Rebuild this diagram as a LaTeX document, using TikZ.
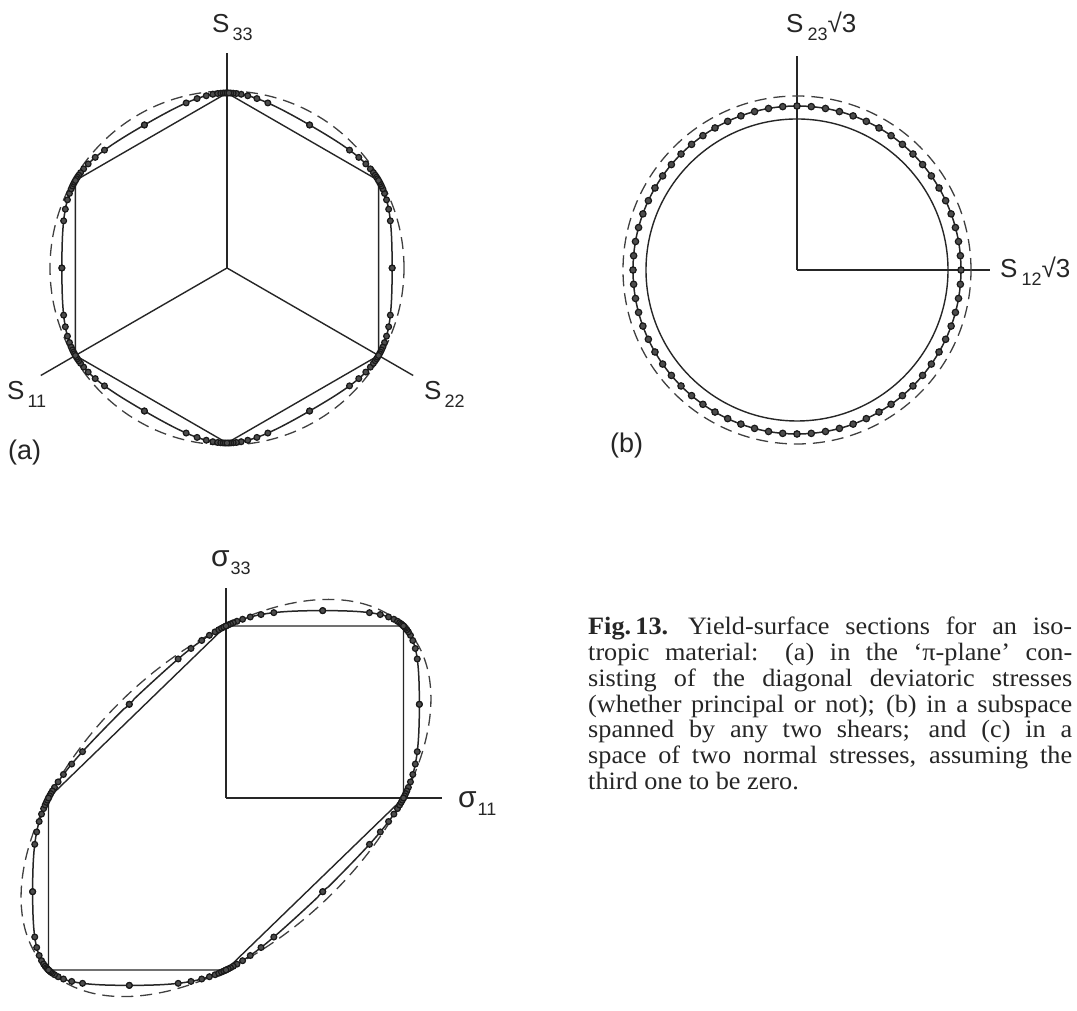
\documentclass[tikz,border=0pt]{standalone}
\usepackage{fontspec}
\setmainfont{Liberation Serif}
\newfontfamily\labfont{Liberation Sans}
\newfontfamily\capfont[FakeStretch=1.05]{Liberation Serif}
\usetikzlibrary{calc}
\newcommand\labsz{\labfont\fontsize{26}{26}\selectfont}
\newcommand\mylab[3]{{\labsz #1\kern#3\raisebox{-8pt}{\fontsize{18}{18}\selectfont #2}}}
\newcommand\capline[1]{\makebox[484pt][s]{#1}}
\tikzset{
  ax/.style={draw=black!85, line width=1.4pt},
  dsh/.style={draw=black!75, line width=1.3pt, dash pattern=on 12pt off 7pt},
  crv/.style={draw=black!85, line width=1.5pt},
  dot/.style={fill=black!70, draw=black!90, line width=1.2pt},
  lab/.style={inner sep=0pt, anchor=base west, text=black!85},
  capt/.style={inner sep=0pt, anchor=base west, text=black!85, font=\capfont\fontsize{25}{26}\selectfont}
}
\begin{document}
\begin{tikzpicture}[x=1pt, y=1pt,
  declare function={
    hpi(\p)=(2/(abs(2/sqrt(3)*cos(\p))^8+abs(cos(\p)/sqrt(3)-sin(\p))^8+abs(cos(\p)/sqrt(3)+sin(\p))^8))^(0.125);
    hps(\p)=(2/(abs(cos(\p))^8+abs(sin(\p))^8+abs(cos(\p)-sin(\p))^8))^(0.125);
  }]
\fill[white] (0,0) rectangle (1077,1011);
\useasboundingbox (0,0) rectangle (1077,1011);

% ---------------- panel (a) ----------------
\begin{scope}[shift={(227,743)}]
  \draw[ax] (0,0) -- (90:215);
  \draw[ax] (0,0) -- (210:215);
  \draw[ax] (0,0) -- (330:215);
  \draw[ax] (90:175) -- (150:175) -- (210:175) -- (270:175) -- (330:175) -- (30:175) -- cycle;
  \draw[dsh] (0,0) circle[radius=177];
  \draw[crv] plot[domain=0:360, samples=361, variable=\t] ({175*hpi(\t)*cos(\t)}, {175*hpi(\t)*sin(\t)}) -- cycle;
  \foreach \k in {0,...,5} {
    \foreach \f in {0,0.5,0.63,0.74,0.82,0.88,0.92,0.95,0.975} {
      \foreach \sg in {-1,1} {
        \pgfmathsetmacro\ang{120+60*\k+\sg*atan(\f*0.57735)}
        \pgfmathsetmacro\rr{175*hpi(\ang)}
        \path[dot] (\ang:\rr) circle[radius=2.9pt];
      }
    }
    \path[dot] ({90+60*\k}:175) circle[radius=2.9pt];
  }
\end{scope}
\node[lab] (s33) at (212,978) {\mylab{S}{33}{3pt}};
\node[lab] (s11) at (7,611) {\mylab{S}{11}{3pt}};
\node[lab] (s22) at (424,611) {\mylab{S}{22}{3pt}};
\node[lab] (pa) at (8,551) {\labfont\fontsize{27}{27}\selectfont (a)};

% ---------------- panel (b) ----------------
\begin{scope}[shift={(797,741)}]
  \draw[ax] (0,0) -- (0,214);
  \draw[ax] (0,0) -- (193,0);
  \draw[ax] (0,0) circle[radius=151];
  \draw[dsh] (0,0) circle[radius=174];
  \draw[crv] (0,0) circle[radius=164];
  \foreach \a in {0,5,...,355} {
    \path[dot] (\a:164) circle[radius=3.2pt];
  }
\end{scope}
\node[lab] (s23) at (786,978) {\mylab{S}{23}{4pt}{\labsz √3}};
\node[lab] (s12) at (1000,733) {\mylab{S}{12}{4pt}{\labsz √3}};
\node[lab] (pb) at (610,558) {\labfont\fontsize{27}{27}\selectfont (b)};

% ---------------- panel (c) ----------------
\begin{scope}[shift={(226,213)}, x=177.5pt, y=172pt]
  \draw[ax] (0,0) -- (0pt,210pt);
  \draw[ax] (0,0) -- (216pt,0pt);
  \draw[ax] (1,0) -- (1,1) -- (0,1) -- (-1,0) -- (-1,-1) -- (0,-1) -- cycle;
  \draw[dsh] plot[domain=0:360, samples=241, variable=\t] ({cos(\t)+sin(\t)/sqrt(3)}, {cos(\t)-sin(\t)/sqrt(3)}) -- cycle;
  \draw[crv] plot[domain=0:360, samples=361, variable=\t] ({hps(\t)*cos(\t)}, {hps(\t)*sin(\t)}) -- cycle;
  \foreach \ax/\ay/\bx/\by in {1/0/1/1, 1/1/0/1, 0/1/-1/0, -1/0/-1/-1, -1/-1/0/-1, 0/-1/1/0} {
    \foreach \f in {0,0.5,0.63,0.74,0.82,0.88,0.92,0.95,0.975,1} {
      \foreach \sg in {-1,1} {
        \pgfmathsetmacro\px{(\ax+\bx)/2+\sg*\f*(\bx-\ax)/2}
        \pgfmathsetmacro\py{(\ay+\by)/2+\sg*\f*(\by-\ay)/2}
        \pgfmathsetmacro\th{atan2(\py,\px)}
        \pgfmathsetmacro\rr{hps(\th)}
        \path[dot] ({\rr*cos(\th)},{\rr*sin(\th)}) circle[radius=2.9pt];
      }
    }
  }
\end{scope}
\node[lab] (sg33) at (211,444) {{\labfont\fontsize{30}{30}\selectfont σ}\kern1pt\raisebox{-8pt}{\labfont\fontsize{18}{18}\selectfont 33}};
\node[lab] (sg11) at (458,203) {{\labfont\fontsize{30}{30}\selectfont σ}\kern1pt\raisebox{-8pt}{\labfont\fontsize{18}{18}\selectfont 11}};

% ---------------- caption ----------------
\node[capt] (c1) at (588,376) {\capline{\textbf{Fig.\,13.}\hspace*{20pt}Yield-surface sections for an iso-}};
\node[capt] (c2) at (588,350.3) {\capline{tropic material: (a) in the ‘π-plane’ con-}};
\node[capt] (c3) at (588,324.6) {\capline{sisting of the diagonal deviatoric stresses}};
\node[capt] (c4) at (588,298.9) {\capline{(whether principal or not); (b) in a subspace}};
\node[capt] (c5) at (588,273.2) {\capline{spanned by any two shears; and (c) in a}};
\node[capt] (c6) at (588,247.5) {\capline{space of two normal stresses, assuming the}};
\node[capt] (c7) at (588,221.8) {third one to be zero.};
\end{tikzpicture}
\end{document}
